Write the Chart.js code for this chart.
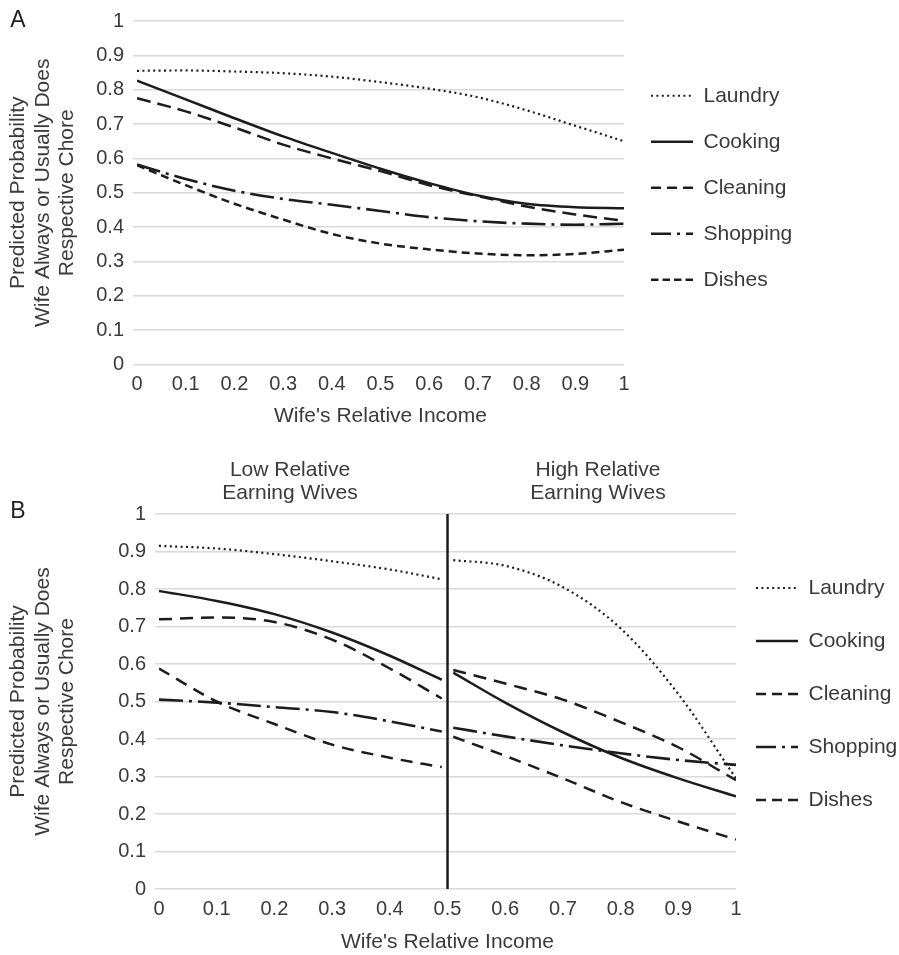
<!DOCTYPE html>
<html>
<head>
<meta charset="utf-8">
<script src="https://cdn.jsdelivr.net/npm/chart.js@4.4.1/dist/chart.umd.min.js"></script>
<style>
  body { margin: 0; background: #fff; }
  canvas { position: absolute; left: 0; }
  #chartA { top: 0; }
  #chartB { top: 450px; }
</style>
</head>
<body>
<canvas id="chartA" width="899" height="450"></canvas>
<canvas id="chartB" width="899" height="505"></canvas>
<script>
// axis ticks
const xTicks = [0, 0.1, 0.2, 0.3, 0.4, 0.5, 0.6, 0.7, 0.8, 0.9, 1];
const yTicks = [0, 0.1, 0.2, 0.3, 0.4, 0.5, 0.6, 0.7, 0.8, 0.9, 1];
const xTitle = "Wife's Relative Income";
const yTitle = ['Predicted Probability', 'Wife Always or Usually Does', 'Respective Chore'];

// Panel A - full range of wife's relative income
const incomeA = [0, 0.1, 0.2, 0.3, 0.4, 0.5, 0.6, 0.7, 0.8, 0.9, 1];
const laundryA = [0.855, 0.856, 0.853, 0.848, 0.838, 0.822, 0.803, 0.778, 0.740, 0.695, 0.650];
const cookingA = [0.826, 0.772, 0.717, 0.664, 0.616, 0.570, 0.528, 0.492, 0.468, 0.458, 0.455];
const cleaningA = [0.775, 0.737, 0.690, 0.640, 0.600, 0.563, 0.522, 0.490, 0.460, 0.437, 0.418];
const shoppingA = [0.582, 0.540, 0.506, 0.482, 0.465, 0.447, 0.429, 0.417, 0.410, 0.407, 0.410];
const dishesA = [0.580, 0.522, 0.468, 0.422, 0.380, 0.352, 0.335, 0.323, 0.318, 0.322, 0.334];

// Panel B - separate fits below and above 0.5
const splitAt = 0.5;
const incomeLow = [0, 0.1, 0.2, 0.3, 0.4, 0.49];
const incomeHigh = [0.51, 0.6, 0.7, 0.8, 0.9, 1];
const laundryLow = [0.915, 0.908, 0.893, 0.874, 0.852, 0.826];
const laundryHigh = [0.877, 0.862, 0.805, 0.695, 0.520, 0.295];
const cookingLow = [0.795, 0.768, 0.733, 0.684, 0.622, 0.558];
const cookingHigh = [0.577, 0.497, 0.418, 0.350, 0.295, 0.247];
const cleaningLow = [0.719, 0.724, 0.712, 0.665, 0.588, 0.508];
const cleaningHigh = [0.584, 0.548, 0.505, 0.445, 0.378, 0.290];
const shoppingLow = [0.505, 0.497, 0.485, 0.472, 0.447, 0.420];
const shoppingHigh = [0.430, 0.407, 0.383, 0.362, 0.344, 0.331];
const dishesLow = [0.588, 0.500, 0.440, 0.385, 0.350, 0.325];
const dishesHigh = [0.406, 0.355, 0.295, 0.232, 0.180, 0.132];

const ink = '#1c1c1c';
const textColor = '#3a3a3a';
const gridColor = '#dadada';
const fontFamily = "'Liberation Sans', Arial, sans-serif";

Chart.defaults.font.family = fontFamily;
Chart.defaults.color = textColor;

function pts(xs, ys) {
  return xs.map((x, i) => ({ x: x, y: ys[i] }));
}

// low segment, a gap at the split, then the high segment
function splitPts(lowY, highY) {
  return pts(incomeLow, lowY).concat([{ x: splitAt, y: null }], pts(incomeHigh, highY));
}

function lineSet(label, data, dash, width, legendDash) {
  return {
    label: label,
    data: data,
    borderColor: ink,
    backgroundColor: ink,
    borderWidth: width,
    borderDash: dash,
    legendDash: legendDash || dash,
    borderCapStyle: 'butt',
    pointRadius: 0,
    fill: false,
    spanGaps: false,
    cubicInterpolationMode: 'monotone'
  };
}

// fixes legend width / offset and writes the panel notes
const panelTweaks = {
  id: 'panelTweaks',
  beforeLayout(chart, args, opts) {
    const lg = chart.legend;
    if (lg && !lg._fixedWidth) {
      const fit = lg.fit;
      lg.fit = function () {
        fit.call(this);
        this.width = opts.legendWidth;
      };
      lg._fixedWidth = true;
    }
  },
  afterLayout(chart, args, opts) {
    const lg = chart.legend;
    if (!lg) return;
    // only move the left edge so the clip box still reaches the canvas edge
    lg.left += opts.dx;
    lg.top += opts.dy;
    lg.bottom += opts.dy;
  },
  afterDraw(chart, args, opts) {
    const ctx = chart.ctx;
    ctx.save();
    ctx.textBaseline = 'middle';
    opts.notes.forEach(n => {
      ctx.font = n.size + 'px ' + fontFamily;
      ctx.fillStyle = n.color || textColor;
      ctx.textAlign = n.align || 'center';
      ctx.fillText(n.text, n.x, n.y);
    });
    ctx.restore();
  }
};

function legendLabels(chart) {
  return chart.data.datasets
    .map((ds, i) => ({
      text: ds.label,
      datasetIndex: i,
      strokeStyle: ds.borderColor,
      fillStyle: ds.borderColor,
      lineWidth: ds.borderWidth,
      lineDash: ds.legendDash,
      lineCap: 'butt',
      pointStyle: 'line',
      fontColor: textColor,
      hidden: false
    }))
    .filter(item => item.text);
}

function makeOptions(cfg) {
  return {
    responsive: false,
    animation: false,
    layout: { padding: cfg.padding },
    plugins: {
      tooltip: { enabled: false },
      legend: {
        position: 'right',
        fullSize: false,
        labels: {
          usePointStyle: true,
          pointStyleWidth: 42,
          padding: cfg.legendGap,
          color: textColor,
          font: { size: 21 },
          generateLabels: legendLabels
        }
      },
      panelTweaks: {
        legendWidth: cfg.legendWidth,
        dx: cfg.legendDx,
        dy: cfg.legendDy,
        notes: cfg.notes
      }
    },
    scales: {
      x: {
        type: 'linear',
        min: 0,
        max: 1,
        afterBuildTicks: s => { s.ticks = xTicks.map(v => ({ value: v })); },
        afterFit: s => { s.height = cfg.xHeight; },
        grid: { display: false, drawTicks: false },
        border: { display: false },
        ticks: {
          padding: 8,
          maxRotation: 0,
          autoSkip: false,
          color: textColor,
          font: { size: 20 },
          callback: v => String(v)
        },
        title: {
          display: true,
          text: xTitle,
          color: textColor,
          font: { size: 21 },
          padding: { top: 0, bottom: 0 }
        }
      },
      y: {
        min: 0,
        max: 1,
        afterBuildTicks: s => { s.ticks = yTicks.map(v => ({ value: v })); },
        afterFit: s => { s.width = cfg.yWidth; },
        grid: { color: gridColor, lineWidth: 1.5, drawTicks: true, tickLength: 4, tickColor: gridColor },
        border: { display: false },
        ticks: {
          padding: 9,
          color: textColor,
          font: { size: 20 },
          callback: v => String(v)
        },
        title: {
          display: true,
          text: yTitle,
          color: textColor,
          font: { size: 21, lineHeight: 1.17 },
          padding: { top: 6, bottom: 0 }
        }
      }
    }
  };
}

// Panel A
new Chart(document.getElementById('chartA'), {
  type: 'line',
  data: {
    datasets: [
      lineSet('Laundry', pts(incomeA, laundryA), [2, 3.4], 2.2),
      lineSet('Cooking', pts(incomeA, cookingA), [], 2.5),
      lineSet('Cleaning', pts(incomeA, cleaningA), [14, 7], 2.5, [10, 6]),
      lineSet('Shopping', pts(incomeA, shoppingA), [24, 6, 3, 6], 2.6, [20, 6, 3, 6]),
      lineSet('Dishes', pts(incomeA, dishesA), [8, 5], 2.5, [7.5, 4])
    ]
  },
  options: makeOptions({
    padding: { top: 19, left: 0, right: 0, bottom: 21.5 },
    xHeight: 64,
    yWidth: 137,
    legendWidth: 275,
    legendGap: 25,
    legendDx: 2,
    legendDy: -5,
    notes: [{ text: 'A', x: 18, y: 21, size: 23, color: '#222' }]
  }),
  plugins: [panelTweaks]
});

// Panel B
const divider = lineSet('', [{ x: splitAt, y: 0 }, { x: splitAt, y: 1 }], [], 2.5);
divider.cubicInterpolationMode = 'default';
divider.tension = 0;

new Chart(document.getElementById('chartB'), {
  type: 'line',
  data: {
    datasets: [
      lineSet('Laundry', splitPts(laundryLow, laundryHigh), [2, 3.4], 2.2),
      lineSet('Cooking', splitPts(cookingLow, cookingHigh), [], 2.5),
      lineSet('Cleaning', splitPts(cleaningLow, cleaningHigh), [13, 8], 2.5, [10, 6]),
      lineSet('Shopping', splitPts(shoppingLow, shoppingHigh), [24, 6, 3, 6], 2.6, [20, 6, 3, 6]),
      lineSet('Dishes', splitPts(dishesLow, dishesHigh), [12, 8], 2.5, [10, 6]),
      divider
    ]
  },
  options: makeOptions({
    padding: { top: 64, left: 0, right: 0, bottom: 0 },
    xHeight: 66,
    yWidth: 159,
    legendWidth: 163,
    legendGap: 32,
    legendDx: -12,
    legendDy: -7.5,
    notes: [
      { text: 'B', x: 18, y: 62, size: 23, color: '#222' },
      { text: 'Low Relative', x: 290, y: 20, size: 21 },
      { text: 'Earning Wives', x: 290, y: 43, size: 21 },
      { text: 'High Relative', x: 598, y: 20, size: 21 },
      { text: 'Earning Wives', x: 598, y: 43, size: 21 }
    ]
  }),
  plugins: [panelTweaks]
});
</script>
</body>
</html>
